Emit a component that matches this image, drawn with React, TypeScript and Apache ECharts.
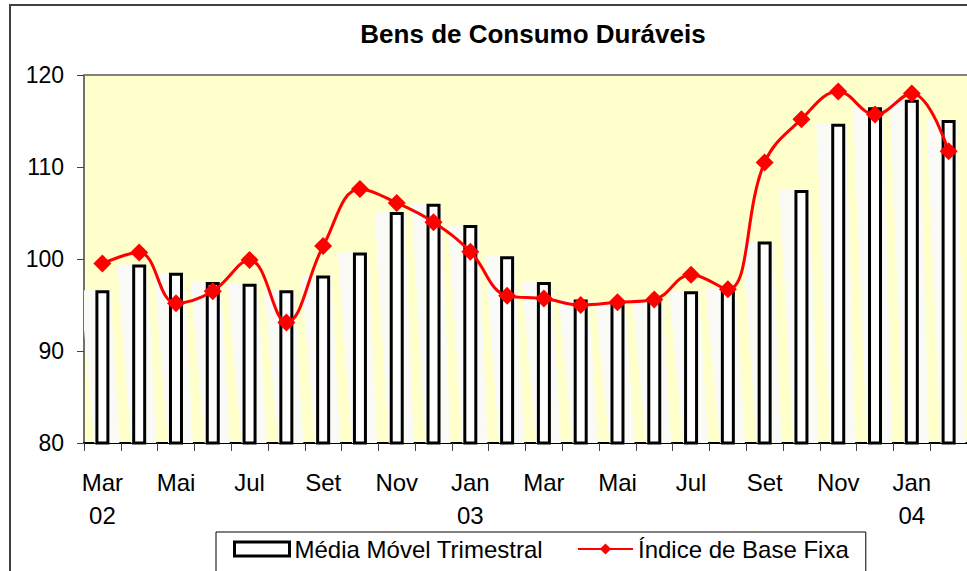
import React, { useEffect, useRef } from "react";
import * as echarts from "echarts";

const categories = [
  "Mar/02", "Abr/02", "Mai/02", "Jun/02", "Jul/02", "Ago/02", "Set/02", "Out/02", "Nov/02", "Dez/02",
  "Jan/03", "Fev/03", "Mar/03", "Abr/03", "Mai/03", "Jun/03", "Jul/03", "Ago/03", "Set/03", "Out/03",
  "Nov/03", "Dez/03", "Jan/04", "Fev/04",
];
const tickLabels = [
  "Mar\n02", "Abr", "Mai", "Jun", "Jul", "Ago", "Set", "Out", "Nov", "Dez",
  "Jan\n03", "Fev", "Mar", "Abr", "Mai", "Jun", "Jul", "Ago", "Set", "Out",
  "Nov", "Dez", "Jan\n04", "Fev",
];
const mediaMovel = [
  96.6, 99.4, 98.5, 97.5, 97.3, 96.6, 98.2, 100.7, 105.1, 106.0, 103.7, 100.3,
  97.5, 95.6, 95.4, 95.5, 96.5, 96.8, 101.9, 107.5, 114.7, 116.5, 117.3, 115.1,
];
const indiceBaseFixa = [
  99.5, 100.7, 95.2, 96.5, 99.9, 93.1, 101.4, 107.6, 106.1, 104.0, 100.8, 96.0,
  95.7, 95.0, 95.3, 95.6, 98.3, 96.7, 110.5, 115.2, 118.2, 115.7, 118.0, 111.7,
];
const yTicks = { min: 80, max: 120, interval: 10 };

const FONT = "'Liberation Sans', Arial, sans-serif";

export default function App() {
  const ref = useRef<HTMLDivElement>(null);
  useEffect(() => {
    if (!ref.current) return;
    const chart = echarts.init(ref.current, null, { renderer: "svg" });
    const option: any = {
      animation: false,
      backgroundColor: "#ffffff",
      textStyle: { fontFamily: FONT, color: "#000" },
      title: {
        text: "Bens de Consumo Duráveis",
        left: 533,
        textAlign: "center",
        top: 21,
        padding: 0,
        textStyle: { fontFamily: FONT, fontSize: 26, fontWeight: "bold", color: "#000" },
      },
      graphic: [
        {
          type: "rect",
          z: -1,
          shape: { x: 10, y: 5, width: 980, height: 620 },
          style: { fill: "none", stroke: "#404040", lineWidth: 2 },
        },
      ],
      legend: {
        left: 216,
        top: 532,
        padding: [5, 17, 12, 17],
        borderColor: "#000",
        borderWidth: 1,
        borderRadius: 0,
        itemGap: 34,
        itemWidth: 55,
        itemHeight: 14,
        textStyle: { fontFamily: FONT, fontSize: 24, color: "#000" },
        data: [
          {
            name: "Média Móvel Trimestral",
            icon: "rect",
            itemStyle: { color: "#fff", borderColor: "#000", borderWidth: 3 },
          },
          { name: "Índice de Base Fixa" },
        ],
      },
      grid: {
        left: 84,
        top: 75,
        right: 0,
        bottom: 128,
        show: true,
        backgroundColor: "#FFFFCC",
        borderWidth: 0,
      },
      xAxis: [
        {
          type: "category",
          data: categories,
          boundaryGap: true,
          axisLine: { show: true, lineStyle: { color: "#000", width: 2 } },
          axisTick: { show: true, interval: 0, length: 8, lineStyle: { color: "#404040", width: 1 } },
          axisLabel: {
            interval: 1,
            fontFamily: FONT,
            fontSize: 24,
            lineHeight: 33,
            margin: 23,
            color: "#000",
            formatter: (_v: string, i: number) => tickLabels[i],
          },
          splitLine: { show: false },
        },
        {
          type: "category",
          data: categories,
          position: "top",
          axisLine: { show: true, lineStyle: { color: "#808080", width: 2 } },
          axisTick: { show: false },
          axisLabel: { show: false },
          splitLine: { show: false },
        },
      ],
      yAxis: {
        type: "value",
        min: yTicks.min,
        max: yTicks.max,
        interval: yTicks.interval,
        axisLine: { show: true, lineStyle: { color: "#404040", width: 1.5 } },
        axisTick: { show: true, length: 7, lineStyle: { color: "#404040", width: 1 } },
        axisLabel: { fontFamily: FONT, fontSize: 23, color: "#000", margin: 20, padding: [6, 0, 0, 0] },
        splitLine: { show: false },
      },
      series: [
        {
          name: "sombra",
          type: "custom",
          clip: true,
          z: 1,
          silent: true,
          data: mediaMovel.map((v, i) => [i, v]),
          renderItem: (_params: any, api: any) => {
            const top = api.coord([api.value(0), api.value(1)]);
            const base = api.coord([api.value(0), yTicks.min]);
            const L = top[0] - 8;
            const R = top[0] + 8;
            return {
              type: "polygon",
              shape: {
                points: [
                  [L - 14, top[1]],
                  [R, top[1]],
                  [R + 9, base[1]],
                  [L, base[1]],
                ],
              },
              style: { fill: "#FAFAF7" },
            };
          },
        },
        {
          name: "Média Móvel Trimestral",
          type: "bar",
          z: 2,
          barWidth: 14,
          data: mediaMovel,
          itemStyle: { color: "#ffffff", borderColor: "#000", borderWidth: 3 },
        },
        {
          name: "Índice de Base Fixa",
          type: "line",
          z: 3,
          smooth: 0.4,
          data: indiceBaseFixa,
          symbol: "diamond",
          symbolSize: 18,
          lineStyle: { color: "#FF0000", width: 3 },
          itemStyle: { color: "#FF0000" },
        },
      ],
    };
    chart.setOption(option);
    return () => chart.dispose();
  }, []);
  return (
    <div
      ref={ref}
      style={{ position: "fixed", left: 0, top: 0, width: 967, height: 571 }}
    />
  );
}
